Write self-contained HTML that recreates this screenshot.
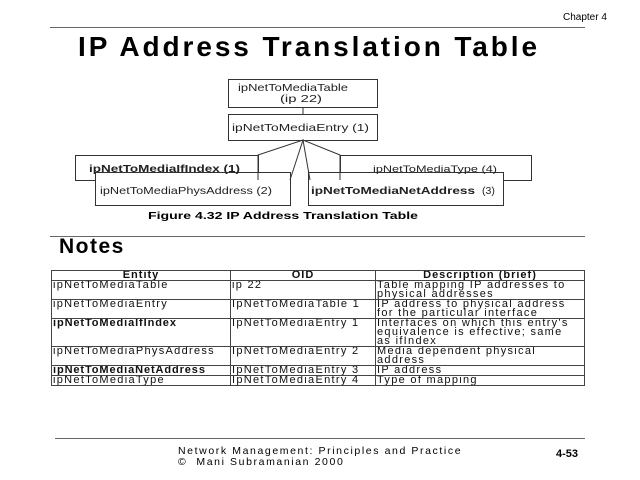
<html><head><style>
body{margin:0;width:640px;height:480px;background:#fff;position:relative;font-family:"Liberation Sans",sans-serif;overflow:hidden}
.a{position:absolute;white-space:nowrap}
table{position:absolute;left:51px;top:270px;border-collapse:collapse;font-size:11px;line-height:9px;color:#111;letter-spacing:1.3px;table-layout:fixed;width:533px}
td,th{border:1px solid #444;padding:0 1px;vertical-align:top;white-space:nowrap;overflow:hidden}
th{font-weight:bold;height:9px;letter-spacing:1px}
td b{letter-spacing:0.9px}
</style></head><body>
<div class="a" style="left:563px;top:12px;font-size:10px">Chapter 4</div>
<div class="a" style="left:50px;top:27px;width:535px;border-top:1px solid #666"></div>
<div class="a" style="left:78px;width:462px;text-align:center;top:31px;font-size:28px;font-weight:bold;letter-spacing:2.9px">IP Address Translation Table</div>
<svg class="a" style="left:0;top:0" width="640" height="240">
<g fill="#fff" stroke="#333" stroke-width="1">
<rect x="228.5" y="79.5" width="149" height="28"/>
<rect x="228.5" y="114.5" width="149" height="26"/>
<rect x="75.5" y="155.5" width="183" height="25"/>
<rect x="340.5" y="155.5" width="191" height="25"/>
<rect x="95.5" y="172.5" width="195" height="33"/>
<rect x="308.5" y="172.5" width="195" height="33"/>
</g>
<g stroke="#333" fill="none">
<line x1="303" y1="107" x2="303" y2="114"/>
<polyline points="258,180 258,155 303,140 290,180"/>
<polyline points="340,180 340,155 303,140 310,180"/>
</g>
<g font-size="10.5" fill="#222">
<text x="238" y="91" textLength="110" lengthAdjust="spacingAndGlyphs">ipNetToMediaTable</text>
<text x="280" y="102" textLength="42" lengthAdjust="spacingAndGlyphs">(ip 22)</text>
<text x="232" y="131" textLength="137" lengthAdjust="spacingAndGlyphs">ipNetToMediaEntry (1)</text>
<text x="89" y="172" font-weight="bold" textLength="151" lengthAdjust="spacingAndGlyphs">ipNetToMediaIfIndex (1)</text>
<text x="373" y="172" font-size="9" textLength="124" lengthAdjust="spacingAndGlyphs">ipNetToMediaType  (4)</text>
<text x="100" y="194" textLength="172" lengthAdjust="spacingAndGlyphs">ipNetToMediaPhysAddress (2)</text>
<text x="311" y="194" font-weight="bold" textLength="164" lengthAdjust="spacingAndGlyphs">ipNetToMediaNetAddress</text>
<text x="482" y="194">(3)</text>
</g>
<text x="148" y="219" font-size="10" font-weight="bold" textLength="270" lengthAdjust="spacingAndGlyphs">Figure 4.32 IP Address Translation Table</text>
</svg>
<div class="a" style="left:50px;top:236px;width:535px;border-top:1px solid #666"></div>
<div class="a" style="left:59px;top:235px;font-size:21px;font-weight:bold;letter-spacing:1.5px">Notes</div>
<table>
<colgroup><col style="width:179px"><col style="width:145px"><col style="width:209px"></colgroup>
<tr><th>Entity</th><th>OID</th><th>Description (brief)</th></tr>
<tr style="height:18px"><td>ipNetToMediaTable</td><td>ip 22</td><td>Table mapping IP addresses to<br>physical addresses</td></tr>
<tr style="height:18px"><td>ipNetToMediaEntry</td><td>IpNetToMediaTable 1</td><td>IP address to physical address<br>for the particular interface</td></tr>
<tr style="height:27px"><td><b>ipNetToMediaIfIndex</b></td><td>IpNetToMediaEntry 1</td><td>Interfaces on which this entry's<br>equivalence is effective; same<br>as ifIndex</td></tr>
<tr style="height:18px"><td>ipNetToMediaPhysAddress</td><td>IpNetToMediaEntry 2</td><td>Media dependent physical<br>address</td></tr>
<tr style="height:9px"><td><b>ipNetToMediaNetAddress</b></td><td>IpNetToMediaEntry 3</td><td>IP address</td></tr>
<tr style="height:9px"><td>ipNetToMediaType</td><td>IpNetToMediaEntry 4</td><td>Type of mapping</td></tr>
</table>
<div class="a" style="left:55px;top:438px;width:530px;border-top:1px solid #666"></div>
<div class="a" style="left:178px;top:446px;font-size:10.5px;line-height:11px;letter-spacing:1.6px">Network Management: Principles and Practice<br>©&nbsp; Mani Subramanian 2000</div>
<div class="a" style="left:556px;top:448px;font-size:11px;font-weight:bold">4-53</div>
</body></html>
